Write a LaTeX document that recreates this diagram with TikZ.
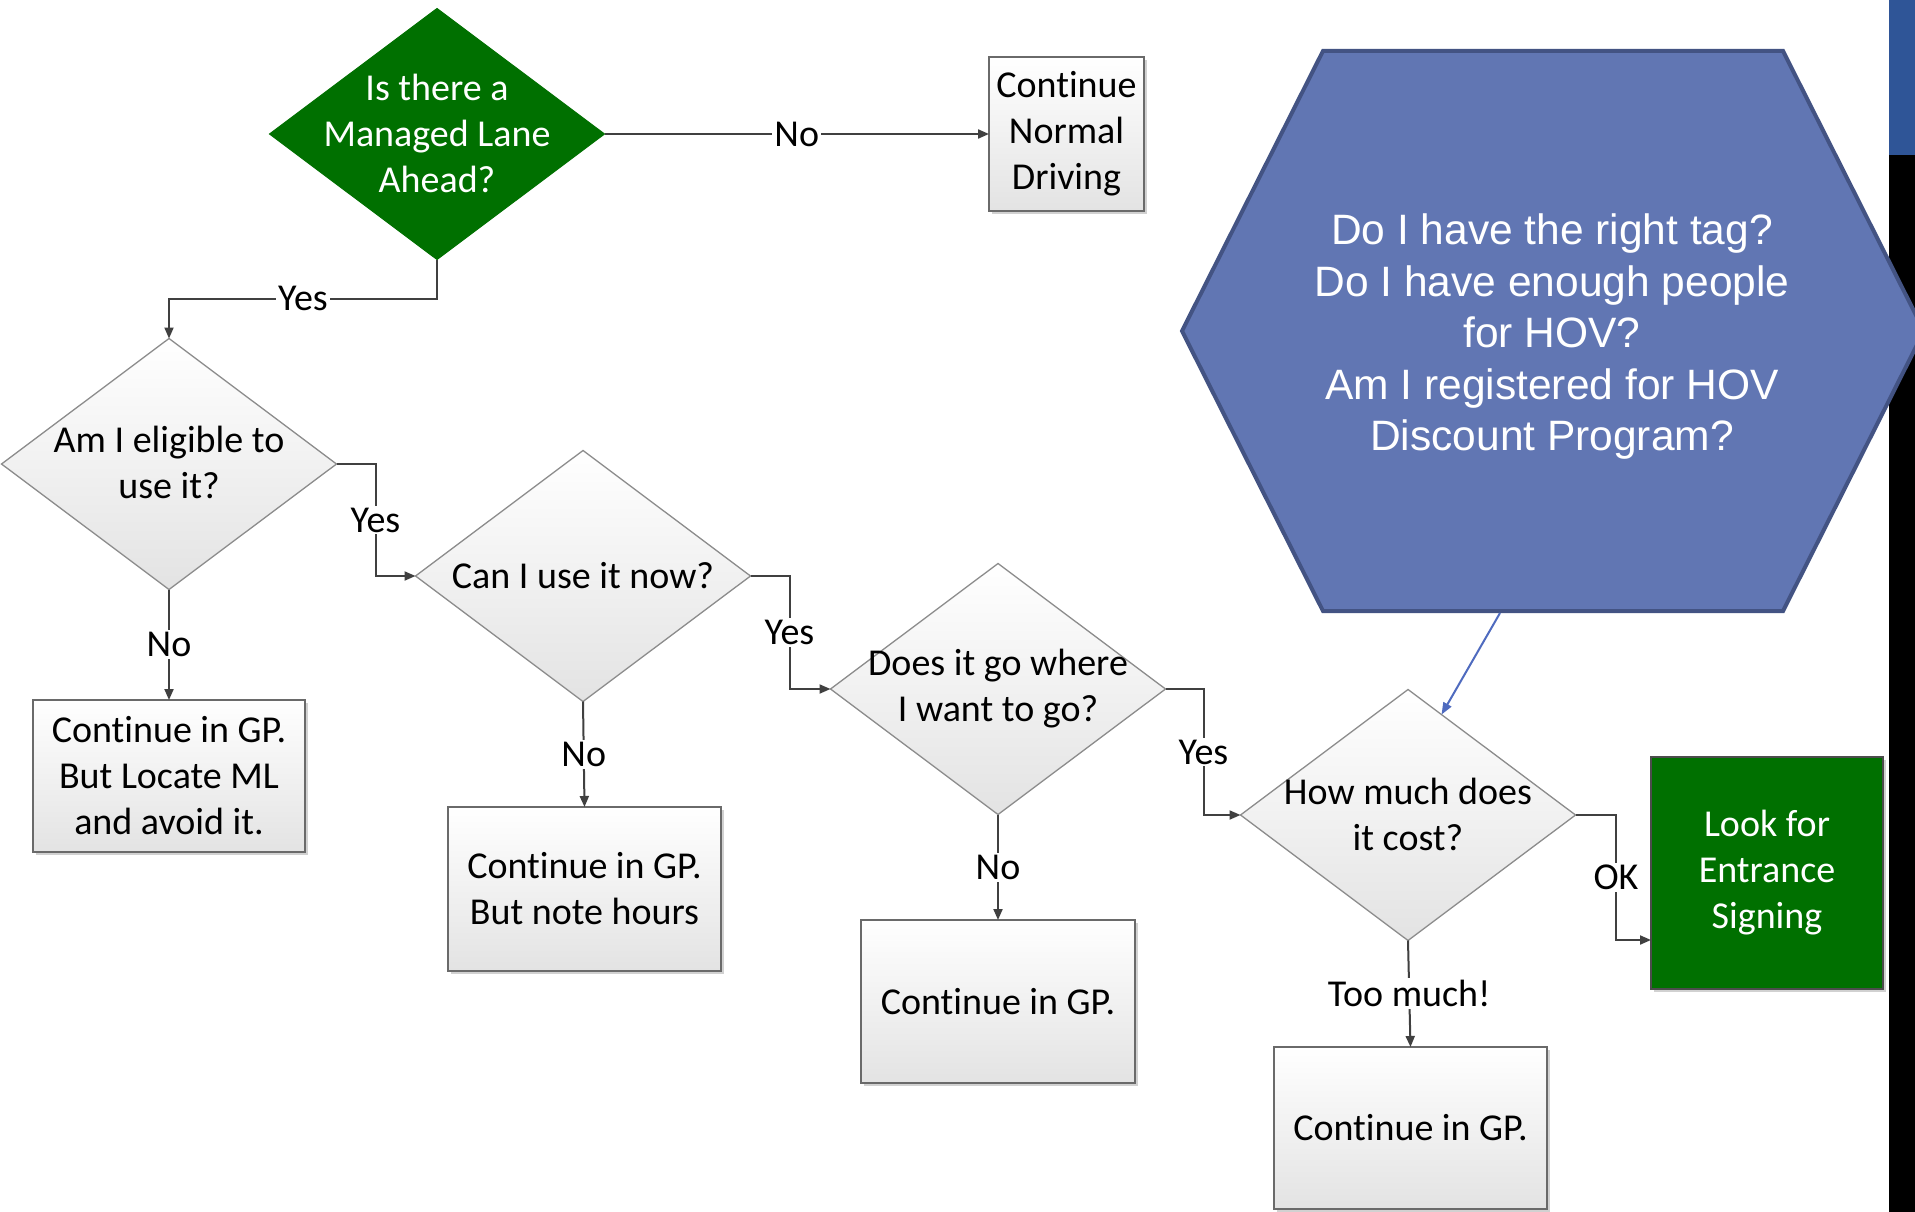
\documentclass[tikz,border=0pt]{standalone}
\usepackage{fontspec}
\setmainfont{Carlito}[Ligatures={NoCommon}]
\newfontfamily\hexfont{Liberation Sans}
\usetikzlibrary{shapes.geometric,arrows.meta,calc,shadows}
\definecolor{dgreen}{HTML}{007000}
\definecolor{hexfill}{HTML}{6176B3}
\definecolor{hexline}{HTML}{435383}
\definecolor{conncol}{HTML}{404040}
\definecolor{stripblue}{HTML}{2F5597}
\definecolor{arrowblue}{HTML}{4F6BBF}
\definecolor{boxline}{HTML}{6A6A6A}
\begin{document}
\begin{tikzpicture}[x=1pt,y=-1pt,
  txt/.style={font=\fontsize{38}{46}\selectfont, align=center, inner sep=0pt},
  gdia/.style={shape=diamond, draw=black!45, line width=1.3pt, top color=white, bottom color=black!11,
    minimum width=335pt, minimum height=251pt, inner sep=0pt, outer sep=0pt},
  greendia/.style={shape=diamond, fill=dgreen, draw=dgreen, line width=1pt,
    minimum width=335pt, minimum height=251pt, inner sep=0pt, outer sep=0pt},
  gbox/.style={rectangle, draw=boxline, line width=1.5pt, top color=white, bottom color=black!11,
    inner sep=0pt, outer sep=0pt, drop shadow={shadow xshift=3pt, shadow yshift=-3pt, opacity=0.18, fill=black}},
  greenbox/.style={rectangle, draw=black!70, line width=1.5pt, fill=dgreen, text=white,
    inner sep=0pt, outer sep=0pt, drop shadow={shadow xshift=3pt, shadow yshift=-3pt, opacity=0.18, fill=black}},
  conn/.style={draw=conncol, line width=2pt, -{Triangle[length=11pt,width=9pt]}},
  lbl/.style={txt, fill=white, inner sep=2pt, text=black},
]
\useasboundingbox (0,0) rectangle (1915,1212);
\fill[white] (0,0) rectangle (1915,1212);
% right strip
\fill[stripblue] (1889,0) rectangle (1915,155);
\fill[black] (1889,155) rectangle (1915,1212);

% decisions
\node[greendia] (d1) at (437,134) {};
\node[txt, text=white] (d1t) at ($(d1)+(0,-1)$) {Is there a\\Managed Lane\\Ahead?};
\node[gdia] (d2) at (169,464) {};
\node[txt] (d2t) at ($(d2)+(0,-2)$) {Am I eligible to\\use it?};
\node[gdia] (d3) at (583,576) {};
\node[txt] (d3t) at (d3) {Can I use it now?};
\node[gdia] (d4) at (998,689) {};
\node[txt] (d4t) at (d4) {Does it go where\\I want to go?};
\node[gdia] (d5) at (1408,815) {};
\node[txt] (d5t) at ($(d5)+(0,-1)$) {How much does\\it cost?};

% boxes
\node[gbox, txt, minimum width=155pt, minimum height=154pt] (c0) at (1066.5,134) {Continue\\Normal\\Driving};
\node[gbox, txt, minimum width=272pt, minimum height=152pt] (b1) at (169,776) {Continue in GP.\\But Locate ML\\and avoid it.};
\node[gbox, txt, minimum width=273pt, minimum height=164pt] (b2) at (584.5,889) {Continue in GP.\\But note hours};
\node[gbox, txt, minimum width=274pt, minimum height=163pt] (b3) at (998,1001.5) {Continue in GP.};
\node[gbox, txt, minimum width=273pt, minimum height=162pt] (b4) at (1410.5,1128) {Continue in GP.};
\node[greenbox, txt, minimum width=232pt, minimum height=232pt] (g) at (1767,873) {Look for\\Entrance\\Signing};

% connectors
\draw[conn] (d1.east) -- node[lbl]{No} (c0.west);
\draw[conn] (d1.south) |- node[lbl,pos=0.75]{Yes} ($(d2.north)+(0,-40)$) -- (d2.north);
\draw[conn] (d2.south) -- node[lbl]{No} (b1.north);
\draw[conn] (d2.east) -| node[lbl,pos=0.75]{Yes} ($(d3.west)+(-40,0)$) -- (d3.west);
\draw[conn] (d3.south) -- node[lbl]{No} (b2.north);
\draw[conn] (d3.east) -| node[lbl,pos=0.75]{Yes} ($(d4.west)+(-41,0)$) -- (d4.west);
\draw[conn] (d4.south) -- node[lbl]{No} (b3.north);
\draw[conn] (d4.east) -| node[lbl,pos=0.75]{Yes} ($(d5.west)+(-37,0)$) -- (d5.west);
\draw[conn] (d5.south) -- node[lbl]{Too much!} (b4.north);
\coordinate (gin) at ($(g.south west)+(0,-49)$);
\draw[conn] (d5.east) -| node[lbl,pos=0.75]{OK} ($(gin)+(-35,0)$) -- (gin);

% hexagon
\draw[draw=hexline, fill=hexfill, line width=4pt, line join=miter]
  (1323,51) -- (1783,51) -- (1924,331) -- (1783,611) -- (1323,611) -- (1182,331) -- cycle;
\node[font=\hexfont\fontsize{42.5}{51.5}\selectfont, text=white, align=center, inner sep=0pt] (hex) at (1552,337)
  {Do I have the right tag?\\Do I have enough people\\for HOV?\\Am I registered for HOV\\Discount Program?};
\coordinate (hb) at (1500,613);
\draw[draw=arrowblue, line width=2pt, -{Triangle[length=12pt,width=9pt]}] (hb) -- ($(d5.north)!0.2!(d5.east)$);
\end{tikzpicture}
\end{document}
